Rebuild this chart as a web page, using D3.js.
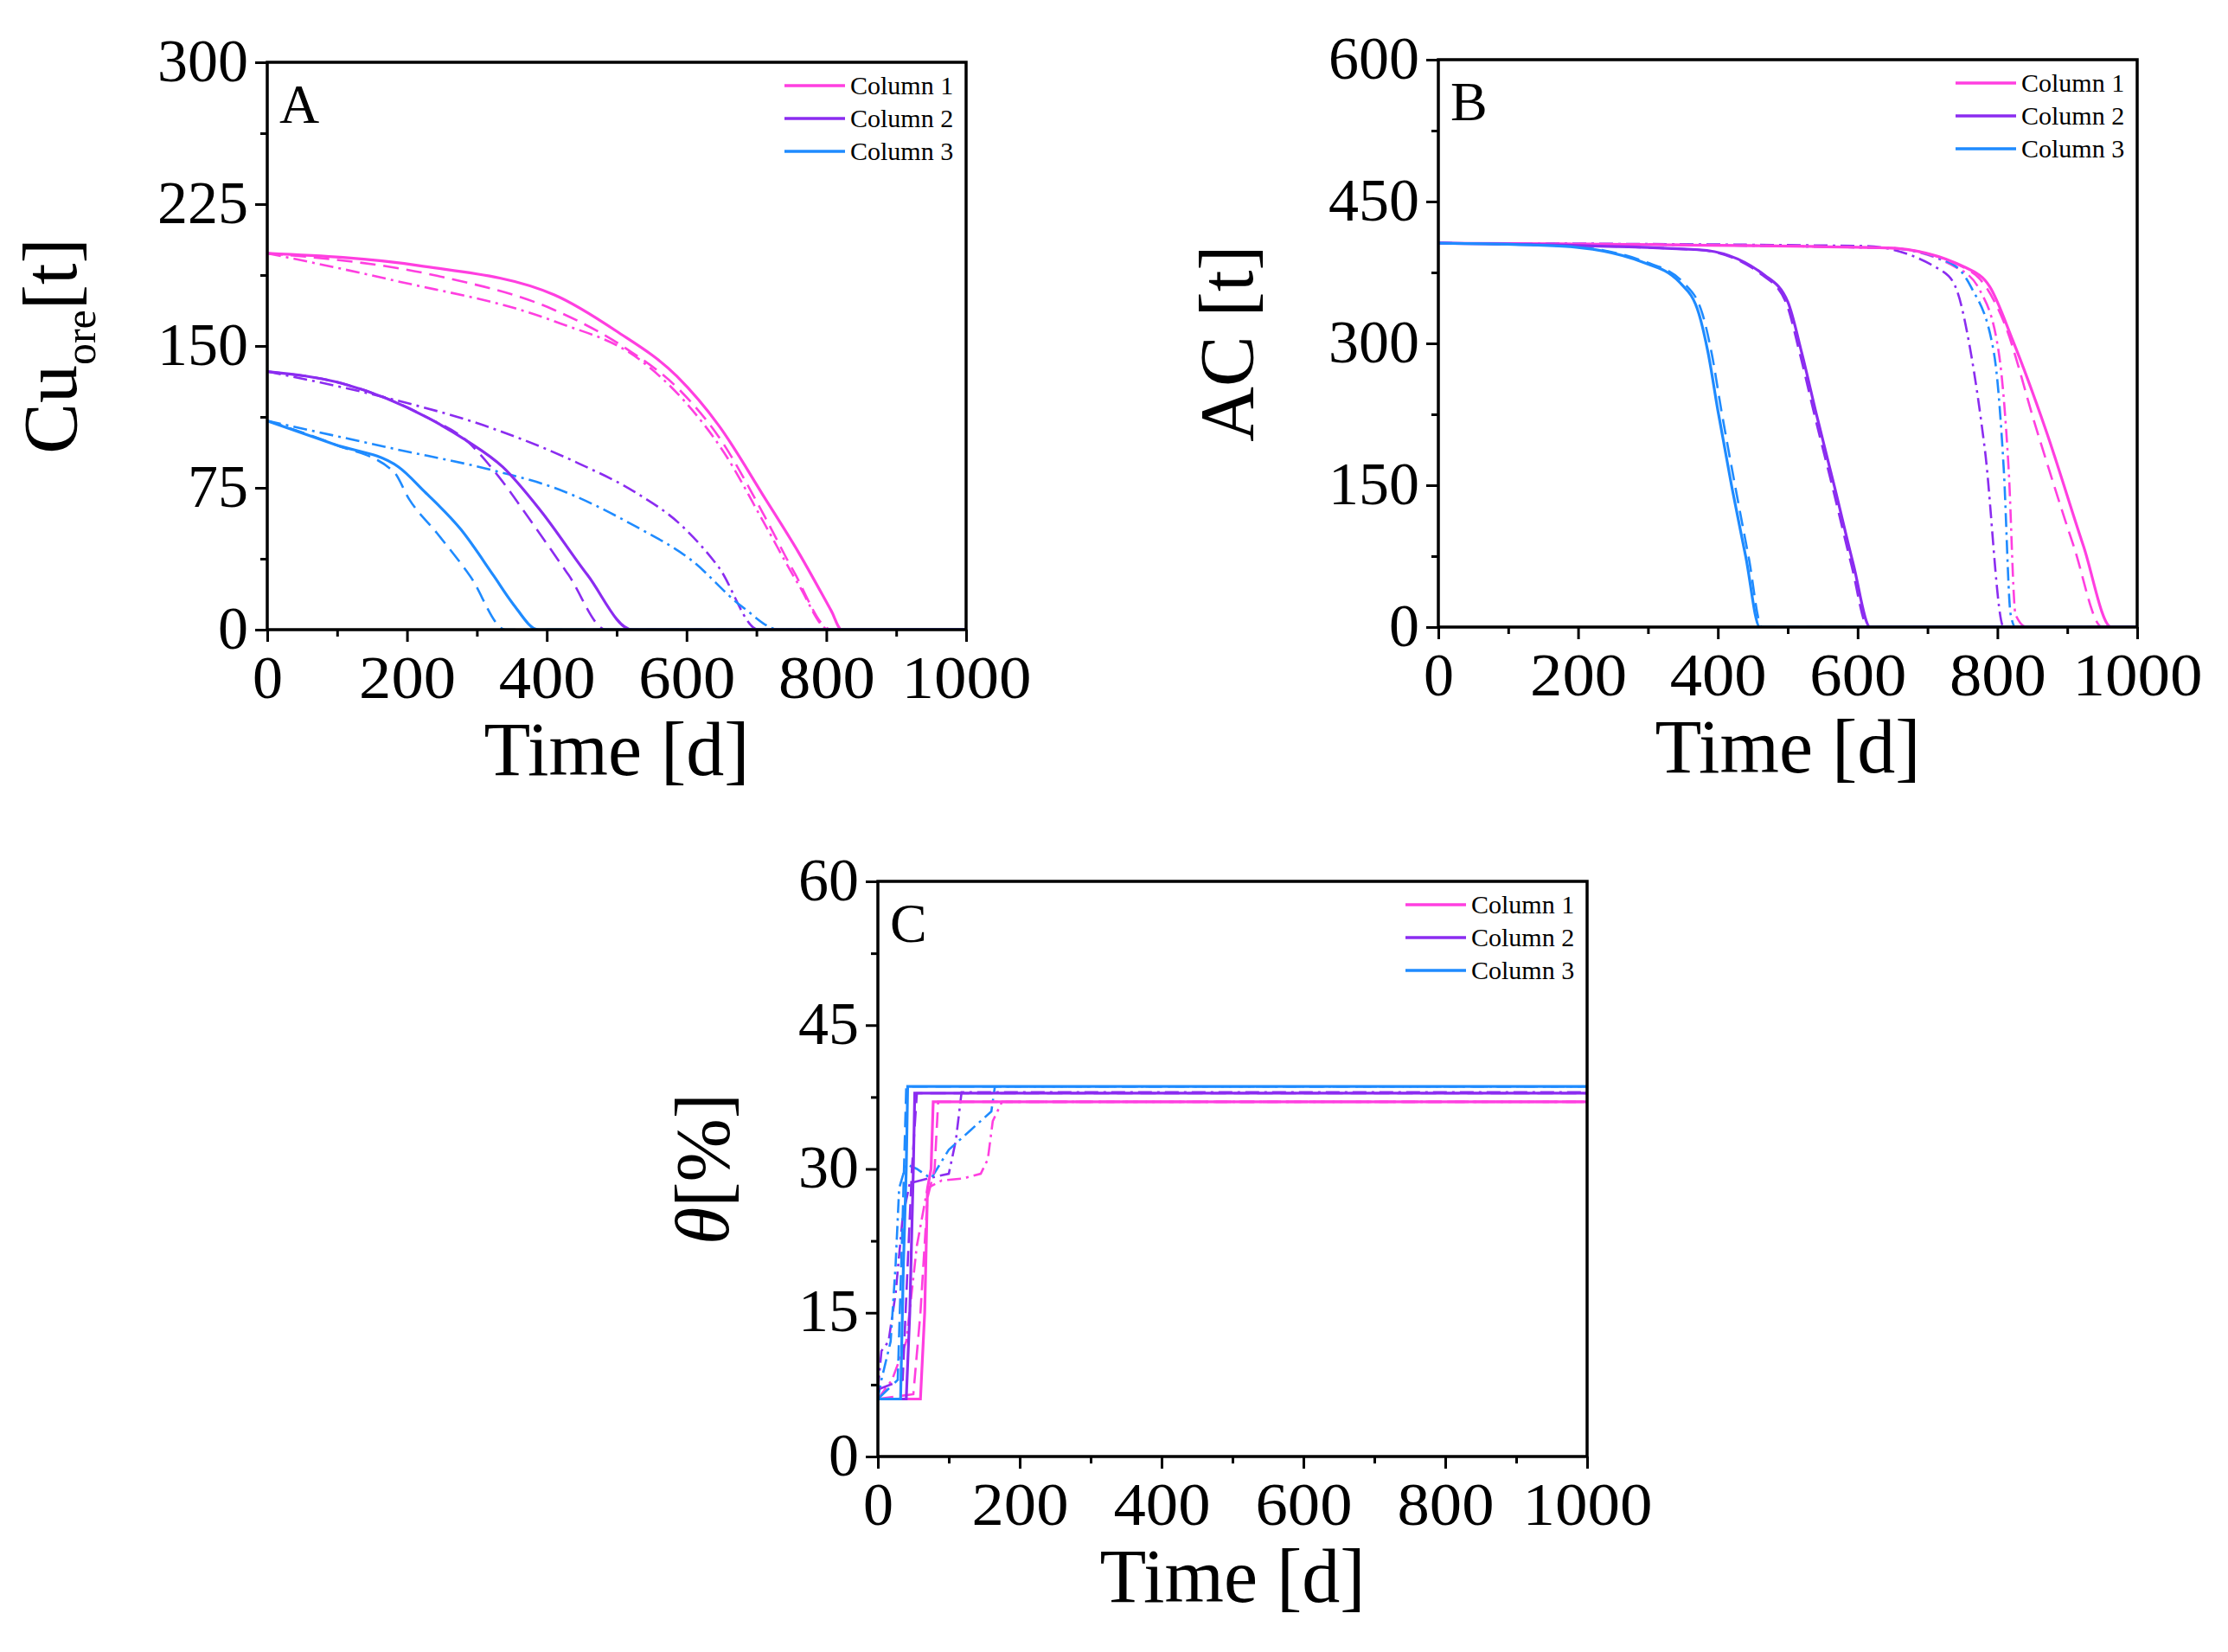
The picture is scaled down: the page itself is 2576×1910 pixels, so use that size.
<!DOCTYPE html>
<html><head><meta charset="utf-8">
<script src="https://cdn.jsdelivr.net/npm/d3@7"></script>
<style>body{margin:0;background:#fff}</style></head>
<body><svg id="c" width="2576" height="1910"></svg>
<script>
const colors = ["#ff3fe0","#8b2cf0","#1f8bff"];
const legendLabels = ["Column 1","Column 2","Column 3"];
const xTicks = [0,200,400,600,800,1000];
const yTicksA = [0,75,150,225,300];
const yTicksB = [0,150,300,450,600];
const yTicksC = [0,15,30,45,60];

// Panel A: Cu_ore [t]
const A_c1_solid=[[0,199],[217,192.5],[411,177],[499,158],[586,134],[646,108],[713,69],[760,41],[807,10],[822,0],[1000,0]];
const A_c1_dash=[[0,199],[244,187],[411,169],[512,149],[592,126],[646,102],[713,59],[753,31],[807,0],[1000,0]];
const A_c1_dd=[[0,199],[177,185],[411,163],[532,143],[599,120],[653,94],[713,55],[760,24],[804,0],[1000,0]];
const A_c2_solid=[[0,136.5],[109,130],[230,112],[285,100],[337,86],[391,63],[458,29],[522,0],[1000,0]];
const A_c2_dash=[[0,136.5],[109,130],[230,112],[285,100],[331,81],[378,57],[431,29],[485,0],[1000,0]];
const A_c2_dd=[[0,136.5],[177,122],[310,108],[445,88],[525,73],[593,55],[646,33],[703,0],[1000,0]];
const A_c3_solid=[[0,110.4],[96,98],[188,86],[225,73],[277,53],[324,28.5],[351,14],[388,0],[1000,0]];
const A_c3_dash=[[0,110.4],[96,98],[181,83.5],[203,69],[243,51],[290,28.5],[341,0],[1000,0]];
const A_c3_dd=[[0,110.4],[177,96],[331,83.5],[411,75],[525,55],[606,37],[680,12],[733,0],[1000,0]];

// Panel B: AC [t]
const B_c1_solid=[[0,406],[641,401],[755,380],[789,360],[822,303],[869,209],[923,86],[963,0],[1000,0]];
const B_c1_dash=[[0,406],[641,401],[755,379],[775,368],[809,323],[856,209],[909,86],[950,0],[1000,0]];
const B_c1_dd=[[0,406],[641,401],[742,380],[775,356],[802,290],[816,168],[826,13],[842,0],[1000,0]];
const B_c2_solid=[[0,406],[373,399],[467,372],[500,344],[520,290],[541,225],[567,148],[594,66],[618,0],[1000,0]];
const B_c2_dash=[[0,406],[370,399],[464,372],[497,344],[517,290],[538,225],[564,148],[591,66],[615,0],[1000,0]];
const B_c2_dd=[[0,406],[608,403],[722,376],[742,356],[762,290],[782,188],[809,0],[1000,0]];
const B_c3_solid=[[0,406],[172,403],[292,386],[346,364],[373,331],[386,290],[400,229],[420,148],[440,74],[460,0],[1000,0]];
const B_c3_dash=[[0,406],[177,403],[297,386],[351,364],[378,331],[391,290],[405,229],[425,148],[444,74],[463,0],[1000,0]];
const B_c3_dd=[[0,406],[641,401],[735,384],[762,360],[795,290],[809,168],[819,13],[826,0],[1000,0]];

// Panel C: theta [%]
const C_c1_solid=[[0,6],[60,6],[66,15],[70,28],[75,30],[78,37],[1000,37]];
const C_c1_dash=[[0,6],[50,6.5],[60,15],[70,27],[80,30],[85,37],[1000,37]];
const C_c1_dd=[[0,6],[20,8],[40,12],[55,22],[70,28],[90,28.8],[120,29],[145,29.5],[155,31],[162,35],[175,37],[1000,37]];
const C_c2_solid=[[0,6],[40,6],[45,15],[50,30],[52,37.9],[1000,37.9]];
const C_c2_dash=[[0,7],[35,8],[42,20],[48,30],[55,37.9],[1000,37.9]];
const C_c2_dd=[[0,7],[5,11],[15,12],[25,17],[35,25],[45,28.5],[70,29],[100,29.5],[110,33],[118,38],[1000,38]];
const C_c3_solid=[[0,6],[32,6],[36,20],[40,30],[42,38.6],[1000,38.6]];
const C_c3_dash=[[0,6],[28,8],[35,25],[40,38.6],[1000,38.6]];
const C_c3_dd=[[0,6],[5,8],[18,12],[25,20],[30,28],[40,30.5],[55,30],[75,29],[100,32],[130,34],[160,36],[165,38.6],[1000,38.6]];

const dashes = {solid:null, dash:"18,9", dd:"16,6,3,6"};
const svg = d3.select("#c");
const FONT = "Liberation Serif, Times New Roman, serif";

function panel(box, yMax, yTicks, letter, series, ylab, smooth){
  const {l,r,t,b} = box;
  const x = d3.scaleLinear().domain([0,1000]).range([l,r]);
  const y = d3.scaleLinear().domain([0,yMax]).range([b,t]);
  const g = svg.append("g");
  const clipId = "clip"+letter;
  g.append("clipPath").attr("id",clipId).append("rect").attr("x",l).attr("y",t-3).attr("width",r-l).attr("height",b-t+3);
  const line = d3.line().x(d=>x(d[0])).y(d=>y(d[1])).curve(smooth?d3.curveMonotoneX:d3.curveLinear);
  ["dd","dash","solid"].forEach(st=>{
    series.forEach((s,i)=>{
      g.append("path").attr("d",line(s[st])).attr("fill","none")
       .attr("stroke",colors[i]).attr("stroke-width",st==="solid"?3.2:2.6)
       .attr("stroke-dasharray",dashes[st]).attr("clip-path",`url(#${clipId})`);
    });
  });
  const xa = g.append("g").attr("transform",`translate(0,${b})`)
    .call(d3.axisBottom(x).tickValues(xTicks).tickSize(14).tickPadding(12).tickFormat(d3.format("d")));
  g.append("g").attr("transform",`translate(0,${b})`)
    .call(d3.axisBottom(x).tickValues(d3.range(100,1000,200)).tickSize(8).tickFormat(""));
  const ya = g.append("g").attr("transform",`translate(${l},0)`)
    .call(d3.axisLeft(y).tickValues(yTicks).tickSize(14).tickPadding(8));
  g.append("g").attr("transform",`translate(${l},0)`)
    .call(d3.axisLeft(y).tickValues(yTicks.slice(0,-1).map(v=>v+yMax/8)).tickSize(8).tickFormat(""));
  g.selectAll(".domain").remove();
  g.selectAll(".tick line").attr("stroke","#000").attr("stroke-width",3);
  g.selectAll(".tick text").attr("font-family",FONT).attr("font-size",70).attr("fill","#000");
  xa.selectAll(".tick text").attr("dy","0.75em").attr("textLength",d=>d>=1000?150:(d>=100?112:null))
    .attr("lengthAdjust","spacingAndGlyphs");
  ya.selectAll(".tick text").attr("dy","0.3em");
  g.append("rect").attr("x",l).attr("y",t).attr("width",r-l).attr("height",b-t)
    .attr("fill","none").attr("stroke","#000").attr("stroke-width",3.5);
  g.append("text").attr("x",l+14).attr("y",t+70).attr("font-family",FONT).attr("font-size",64).text(letter);
  legendLabels.forEach((lab,i)=>{
    const ly = t+27+i*38;
    g.append("line").attr("x1",r-210).attr("x2",r-140).attr("y1",ly).attr("y2",ly)
      .attr("stroke",colors[i]).attr("stroke-width",3.5);
    g.append("text").attr("x",r-134).attr("y",ly+10).attr("font-family",FONT).attr("font-size",30).text(lab);
  });
  g.append("text").attr("x",(l+r)/2).attr("y",b+168).attr("text-anchor","middle")
    .attr("font-family",FONT).attr("font-size",88).text("Time [d]");
  ylab(g,(t+b)/2);
}

panel({l:309,r:1117,t:72,b:728},300,yTicksA,"A",
  [{solid:A_c1_solid,dash:A_c1_dash,dd:A_c1_dd},{solid:A_c2_solid,dash:A_c2_dash,dd:A_c2_dd},{solid:A_c3_solid,dash:A_c3_dash,dd:A_c3_dd}],
  (g,cy)=>{
    const tx=g.append("text").attr("transform",`translate(88,${cy}) rotate(-90)`).attr("text-anchor","middle")
      .attr("font-family",FONT).attr("font-size",88);
    tx.append("tspan").text("Cu");
    tx.append("tspan").attr("font-size",50).attr("dy",22).text("ore");
    tx.append("tspan").attr("dy",-22).text("[t]");
  }, true);
panel({l:1663,r:2471,t:69,b:725},600,yTicksB,"B",
  [{solid:B_c1_solid,dash:B_c1_dash,dd:B_c1_dd},{solid:B_c2_solid,dash:B_c2_dash,dd:B_c2_dd},{solid:B_c3_solid,dash:B_c3_dash,dd:B_c3_dd}],
  (g,cy)=>{
    g.append("text").attr("transform",`translate(1448,${cy}) rotate(-90)`).attr("text-anchor","middle")
      .attr("font-family",FONT).attr("font-size",88).text("AC [t]");
  }, true);
panel({l:1015,r:1835,t:1019,b:1684},60,yTicksC,"C",
  [{solid:C_c1_solid,dash:C_c1_dash,dd:C_c1_dd},{solid:C_c2_solid,dash:C_c2_dash,dd:C_c2_dd},{solid:C_c3_solid,dash:C_c3_dash,dd:C_c3_dd}],
  (g,cy)=>{
    const tx=g.append("text").attr("transform",`translate(842,${cy}) rotate(-90)`).attr("text-anchor","middle")
      .attr("font-family",FONT).attr("font-size",88);
    tx.append("tspan").attr("font-style","italic").text("θ");
    tx.append("tspan").text("[%]");
  }, false);
</script></body></html>
